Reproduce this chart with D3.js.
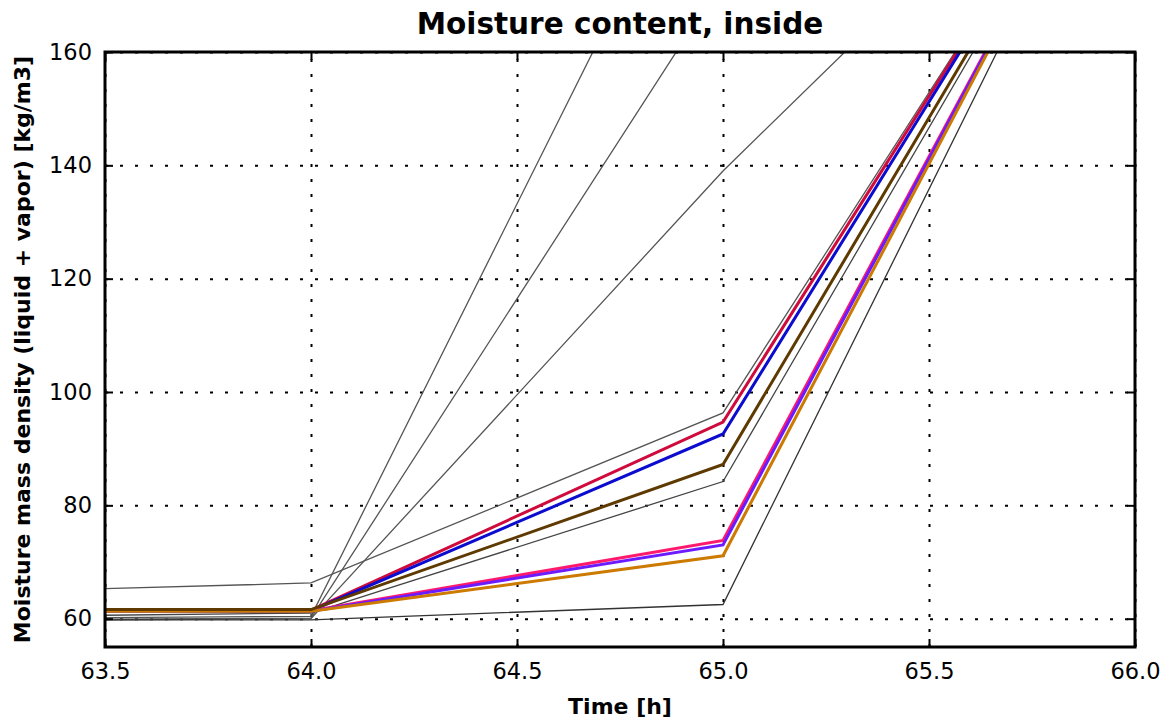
<!DOCTYPE html>
<html>
<head>
<meta charset="utf-8">
<script src="https://cdn.jsdelivr.net/npm/d3@7"></script>
<style>
  html, body { margin: 0; padding: 0; background: #fff; }
  svg { display: block; font-family: "DejaVu Sans", sans-serif; }
</style>
</head>
<body>
<svg id="chart" width="1170" height="723"></svg>
<script>
// Sample times [h]
const times = [63, 64, 65, 66];

// Moisture mass density per run [kg/m3], one entry per time
const grayTop    = [64.3, 66.3, 96.3, 209.4];
const redRun     = [61.5, 61.5, 94.7, 209.7];
const blueRun    = [61.4, 61.4, 92.6, 209.8];
const brownRun   = [61.6, 61.6, 87.2, 209.6];
const grayMid    = [60.2, 61.0, 84.2, 209.1];
const pinkRun    = [61.4, 61.4, 73.8, 209.3];
const violetRun  = [61.3, 61.3, 73.0, 209.3];
const orangeRun  = [61.3, 61.3, 71.1, 209.4];
const grayLow    = [59.8, 59.8, 62.5, 209.1];
const graySteepA = [60.0, 60.4, 206.0, 210.0];
const graySteepB = [59.7, 60.1, 172.8, 210.0];
const graySteepC = [59.6, 60.0, 139.0, 210.0];

// Axis tick values
const xTicks = [63.5, 64.0, 64.5, 65.0, 65.5, 66.0];
const yTicks = [60, 80, 100, 120, 140, 160];

const series = [
  { values: grayTop,    color: "#555555", width: 1.3 },
  { values: graySteepA, color: "#555555", width: 1.3 },
  { values: graySteepB, color: "#555555", width: 1.3 },
  { values: graySteepC, color: "#555555", width: 1.3 },
  { values: grayMid,    color: "#444444", width: 1.3 },
  { values: grayLow,    color: "#333333", width: 1.3 },
  { values: redRun,     color: "#cf0a3c", width: 3 },
  { values: blueRun,    color: "#0c0ccf", width: 3 },
  { values: pinkRun,    color: "#ff1a6e", width: 3 },
  { values: violetRun,  color: "#6a1cff", width: 3 },
  { values: orangeRun,  color: "#cc7a00", width: 3 },
  { values: brownRun,   color: "#5e3a00", width: 3 }
];

const margin = { left: 105, right: 35, top: 52, bottom: 76 };
const W = 1170, H = 723;
const svg = d3.select("#chart");

const x = d3.scaleLinear().domain([63.5, 66]).range([margin.left, W - margin.right]);
const y = d3.scaleLinear().domain([55, 160]).range([H - margin.bottom, margin.top]);
const pw = x.range()[1] - x.range()[0];
const ph = y.range()[0] - y.range()[1];

svg.append("defs").append("clipPath").attr("id", "plot-clip")
  .append("rect").attr("x", margin.left).attr("y", margin.top)
  .attr("width", pw).attr("height", ph);

// dotted grid
const grid = svg.append("g").attr("class", "grid");
grid.append("g")
  .attr("transform", `translate(0,${y.range()[0]})`)
  .call(d3.axisBottom(x).tickValues(xTicks).tickSize(-ph).tickFormat(""))
  .call(g => g.select(".domain").remove());
grid.append("g")
  .attr("transform", `translate(${margin.left},0)`)
  .call(d3.axisLeft(y).tickValues(yTicks).tickSize(-pw).tickFormat(""))
  .call(g => g.select(".domain").remove());
grid.selectAll("line")
  .attr("stroke", "#000").attr("stroke-width", 2)
  .attr("stroke-dasharray", "3,12");

// data lines
const line = d3.line().x((d, i) => x(times[i])).y(d => y(d));
svg.append("g").attr("clip-path", "url(#plot-clip)")
  .selectAll("path").data(series).join("path")
  .attr("d", d => line(d.values))
  .attr("fill", "none")
  .attr("stroke", d => d.color)
  .attr("stroke-width", d => d.width)
  .attr("stroke-linejoin", "miter");

// axes with inward ticks on all four sides
function styleAxis(g) {
  g.attr("font-size", null).attr("font-family", null);
  g.select(".domain").remove();
  g.selectAll(".tick line").attr("stroke", "#000").attr("stroke-width", 2);
  g.selectAll(".tick text").attr("fill", "#000")
    .style("font-size", "22.5px").style("font-family", "DejaVu Sans, sans-serif");
}
svg.append("g")
  .attr("transform", `translate(0,${y.range()[0]})`)
  .call(d3.axisBottom(x).tickValues(xTicks).tickFormat(d3.format(".1f"))
    .tickSizeInner(-8).tickSizeOuter(0).tickPadding(16))
  .call(styleAxis);
svg.append("g")
  .attr("transform", `translate(0,${margin.top})`)
  .call(d3.axisTop(x).tickValues(xTicks).tickFormat("").tickSizeInner(-8).tickSizeOuter(0))
  .call(styleAxis);
svg.append("g")
  .attr("transform", `translate(${margin.left},0)`)
  .call(d3.axisLeft(y).tickValues(yTicks).tickFormat(d3.format("d"))
    .tickSizeInner(-8).tickSizeOuter(0).tickPadding(13))
  .call(styleAxis);
svg.append("g")
  .attr("transform", `translate(${W - margin.right},0)`)
  .call(d3.axisRight(y).tickValues(yTicks).tickFormat("").tickSizeInner(-8).tickSizeOuter(0))
  .call(styleAxis);

// frame
svg.append("rect")
  .attr("x", margin.left).attr("y", margin.top)
  .attr("width", pw).attr("height", ph)
  .attr("fill", "none").attr("stroke", "#000").attr("stroke-width", 3);

// title and axis labels
svg.append("text")
  .attr("x", (x.range()[0] + x.range()[1]) / 2).attr("y", 34)
  .attr("text-anchor", "middle")
  .style("font-size", "29.5px").style("font-weight", "bold")
  .text("Moisture content, inside");
svg.append("text")
  .attr("x", (x.range()[0] + x.range()[1]) / 2).attr("y", 714)
  .attr("text-anchor", "middle")
  .style("font-size", "22px").style("font-weight", "bold")
  .text("Time [h]");
svg.append("text")
  .attr("transform", `translate(30,${(y.range()[0] + y.range()[1]) / 2}) rotate(-90)`)
  .attr("text-anchor", "middle")
  .style("font-size", "22px").style("font-weight", "bold")
  .text("Moisture mass density (liquid + vapor) [kg/m3]");
</script>
</body>
</html>
